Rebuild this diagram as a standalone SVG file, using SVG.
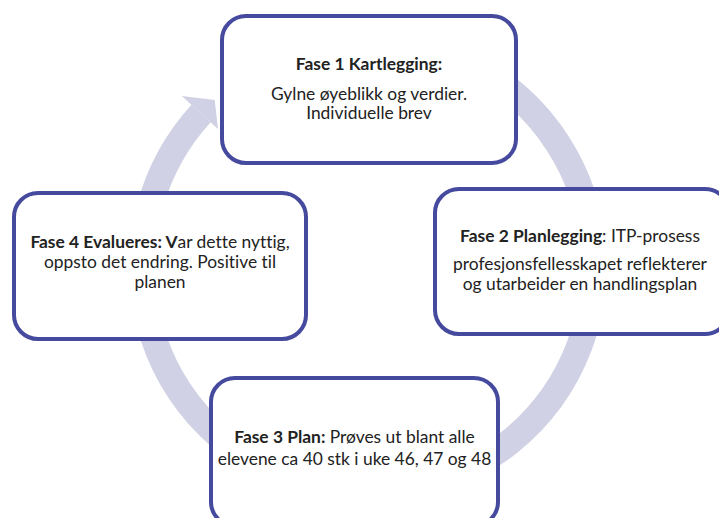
<svg xmlns="http://www.w3.org/2000/svg" width="719" height="518" viewBox="0 0 719 518">
  <style>
    .box { fill: #ffffff; stroke: #464a9e; stroke-width: 4; }
    .ring { fill: none; stroke: #d0d1e4; stroke-width: 26; }
    .head { fill: #d0d1e4; }
    text { font-family: Lato, "Liberation Sans", sans-serif; font-size: 17.4px; fill: #222222; text-anchor: middle; font-variant-ligatures: none; }
    .b { font-weight: bold; }
  </style>
  <rect width="719" height="518" fill="#ffffff"/>
  <g id="connectors">
    <path class="ring" d="M 255 70.3 A 226 226 0 1 1 201.1 113.6"/>
    <polygon class="head" points="181.8,96.1 214.7,99.9 218,129.1"/>
  </g>
  <g id="fase1">
    <rect class="box" x="222" y="16" width="294" height="147" rx="24"/>
    <text x="369" y="70" class="b">Fase 1 Kartlegging:</text>
    <text x="369" y="100">Gylne øyeblikk og verdier.</text>
    <text x="369" y="119">Individuelle brev</text>
  </g>
  <g id="fase2">
    <rect class="box" x="435" y="189" width="294" height="145" rx="24"/>
    <text x="580" y="242"><tspan class="b">Fase 2 Planlegging</tspan>: ITP-prosess</text>
    <text x="580" y="270">profesjonsfellesskapet reflekterer</text>
    <text x="580" y="290">og utarbeider en handlingsplan</text>
  </g>
  <g id="fase3">
    <rect class="box" x="211" y="378" width="287" height="148" rx="24"/>
    <text x="354.5" y="443"><tspan class="b">Fase 3 Plan:</tspan> Prøves ut blant alle</text>
    <text x="354.5" y="465">elevene ca 40 stk i uke 46, 47 og 48</text>
  </g>
  <g id="fase4">
    <rect class="box" x="14" y="193" width="292" height="146" rx="24"/>
    <text x="160" y="248"><tspan class="b">Fase 4 Evalueres: V</tspan>ar dette nyttig,</text>
    <text x="160" y="268">oppsto det endring. Positive til</text>
    <text x="160" y="288">planen</text>
  </g>
</svg>
